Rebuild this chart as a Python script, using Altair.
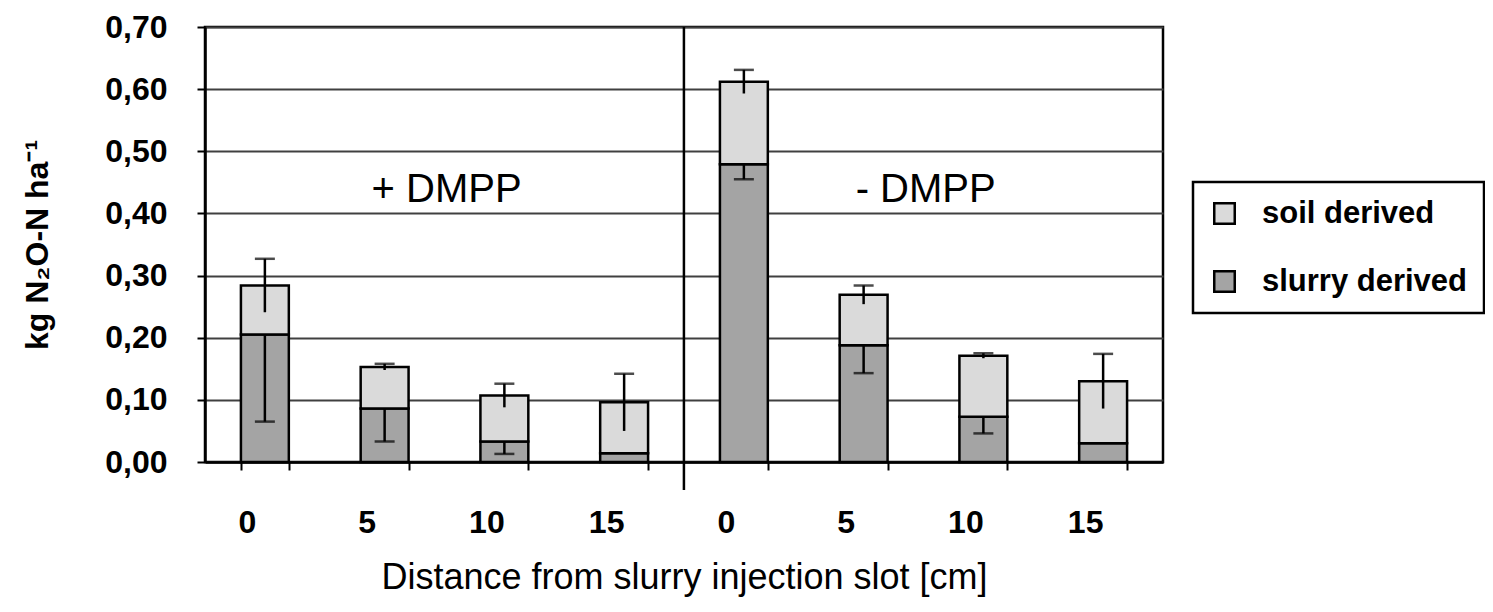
import altair as alt
import pandas as pd

# ---- data ----
groups = ["+", "+", "+", "+", "-", "-", "-", "-"]
distances = ["0", "5", "10", "15", "0", "5", "10", "15"]
slurry = [0.205, 0.086, 0.033, 0.014, 0.479, 0.188, 0.073, 0.030]
soil = [0.079, 0.067, 0.074, 0.082, 0.133, 0.081, 0.098, 0.100]
total_err = [0.043, 0.005, 0.019, 0.046, 0.019, 0.015, 0.004, 0.044]
slurry_err = [0.140, 0.053, 0.020, 0.000, 0.024, 0.045, 0.027, 0.000]

group_text = ["+ DMPP", "- DMPP"]
group_text_at = ["+|5", "-|5"]
group_text_y = [0.418, 0.418]

series_names = ["soil derived", "slurry derived"]
series_colors = ["#dadada", "#a4a4a4"]

y_ticks = [0.0, 0.1, 0.2, 0.3, 0.4, 0.5, 0.6, 0.7]

# ---- tables ----
keys = [f"{g}|{d}" for g, d in zip(groups, distances)]

bar_rows = []
for k, s, o in zip(keys, slurry, soil):
    bar_rows.append({"key": k, "series": "slurry derived", "y0": 0.0, "y1": s})
    bar_rows.append({"key": k, "series": "soil derived", "y0": s, "y1": s + o})
bar_df = pd.DataFrame(bar_rows)

err_rows = []
cap_rows = []
for k, s, o, te, se in zip(keys, slurry, soil, total_err, slurry_err):
    tot = s + o
    if te > 0:
        err_rows.append({"key": k, "lo": tot - te, "hi": tot + te})
        cap_rows.append({"key": k, "v": tot + te})
    if se > 0:
        err_rows.append({"key": k, "lo": s - se, "hi": s})
        cap_rows.append({"key": k, "v": s - se})
err_df = pd.DataFrame(err_rows)
cap_df = pd.DataFrame(cap_rows)

txt_df = pd.DataFrame({"key": group_text_at, "y": group_text_y, "t": group_text})
div_df = pd.DataFrame({"key": ["-|0"], "y": [0.7]})

FONT = "Liberation Sans"

x_scale = alt.Scale(domain=keys, paddingInner=0.6, paddingOuter=0.3)
y_scale = alt.Scale(domain=[0, 0.7], nice=False)

x_axis = alt.Axis(
    title="Distance from slurry injection slot [cm]",
    labelExpr="split(datum.label, '|')[1]",
    labelAngle=0,
    tickBand="extent",
    tickSize=8,
    tickWidth=2,
    tickColor="black",
    domainColor="black",
    domainWidth=2.5,
    labelFont=FONT,
    labelFontSize=32,
    labelFontWeight="bold",
    labelColor="black",
    labelPadding=37,
    labelOffset=-18,
    titleFont=FONT,
    titleFontSize=36,
    titleFontWeight="normal",
    titleColor="black",
    titlePadding=22,
    grid=False,
)

y_axis = alt.Axis(
    title="kg N₂O-N ha⁻¹",
    values=y_ticks,
    labelExpr="replace(format(datum.value, '.2f'), '.', ',')",
    tickSize=8,
    tickWidth=2,
    tickColor="black",
    domainColor="black",
    domainWidth=2.5,
    labelFont=FONT,
    labelFontSize=32,
    labelFontWeight="bold",
    labelColor="black",
    labelPadding=30,
    titleFont=FONT,
    titleFontSize=32,
    titleFontWeight="bold",
    titleColor="black",
    titlePadding=50,
    grid=True,
    gridColor="#404040",
    gridWidth=2,
)

bars = alt.Chart(bar_df).mark_bar(stroke="black", strokeWidth=2.5).encode(
    x=alt.X("key:N", scale=x_scale, axis=x_axis, sort=keys),
    y=alt.Y("y0:Q", scale=y_scale, axis=y_axis),
    y2="y1:Q",
    color=alt.Color(
        "series:N",
        scale=alt.Scale(domain=series_names, range=series_colors),
        legend=alt.Legend(
            title=None,
            orient="none",
            legendX=988,
            legendY=155,
            fillColor="white",
            strokeColor="black",
            padding=16,
            symbolType="square",
            symbolSize=420,
            symbolStrokeColor="black",
            symbolStrokeWidth=2.5,
            symbolOpacity=1,
            labelFont=FONT,
            labelFontSize=31,
            labelFontWeight="bold",
            labelColor="black",
            labelOffset=22,
            labelLimit=500,
            rowPadding=36,
        ),
    ),
)

err = alt.Chart(err_df).mark_rule(color="black", strokeWidth=2.5).encode(
    x=alt.X("key:N", scale=x_scale, sort=keys),
    y=alt.Y("lo:Q", scale=y_scale),
    y2="hi:Q",
)

caps = alt.Chart(cap_df).mark_tick(color="black", thickness=2.5, size=20).encode(
    x=alt.X("key:N", scale=x_scale, sort=keys),
    y=alt.Y("v:Q", scale=y_scale),
)

divider = alt.Chart(div_df).mark_rule(color="black", strokeWidth=2.5, xOffset=-36).encode(
    x=alt.X("key:N", scale=x_scale, sort=keys, bandPosition=0),
    y=alt.Y("y:Q", scale=y_scale),
    y2=alt.value(463),
)

labels = alt.Chart(txt_df).mark_text(
    font=FONT, fontSize=40, color="black", baseline="alphabetic", align="center", dx=62
).encode(
    x=alt.X("key:N", scale=x_scale, sort=keys),
    y=alt.Y("y:Q", scale=y_scale),
    text="t:N",
)

chart = (
    alt.layer(bars, err, caps, divider, labels)
    .properties(
        width=958,
        height=435,
        padding={"left": 197, "top": 19, "right": 322, "bottom": 136},
        autosize=alt.AutoSizeParams(type="none"),
        background="white",
    )
    .configure_view(stroke="black", strokeWidth=2.5)
    .configure_legend(strokeWidth=2.5)
)

chart.save("out.html", embed_options={"renderer": "svg", "actions": False})
